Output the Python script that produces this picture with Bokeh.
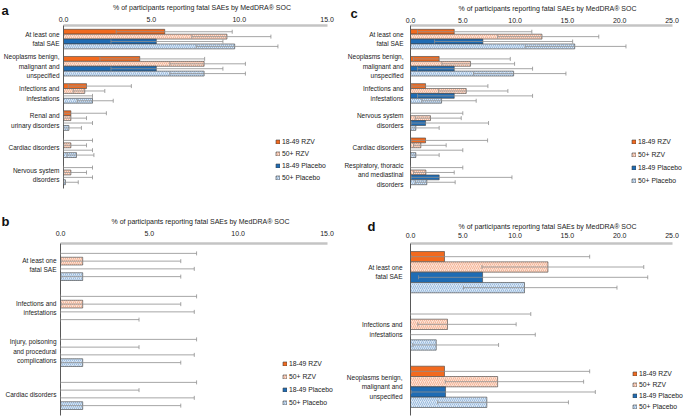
from bokeh.plotting import figure
from bokeh.models import (ColumnDataSource, FactorRange, Range1d, FixedTicker,
                          NumeralTickFormatter, Whisker, TeeHead, Legend, LegendItem, Title)
from bokeh.transform import dodge
from bokeh.layouts import row, column
from bokeh.embed import file_html
from bokeh.resources import INLINE

# ---------------- data ----------------
SERIES = ["18-49 RZV", "50+ RZV", "18-49 Placebo", "50+ Placebo"]
TITLE = "% of participants reporting fatal SAEs by MedDRA\u00ae SOC"
xticks_15 = [0, 5, 10, 15]
xticks_25 = [0, 5, 10, 15, 20, 25]

# panel a
a_cats = ["At least one\nfatal SAE", "Neoplasms benign,\nmalignant and\nunspecified",
          "Infections and\ninfestations", "Renal and\nurinary disorders",
          "Cardiac disorders", "Nervous system\ndisorders"]
a_rzv1849 = [5.76, 4.34, 1.31, 0.42, 0.0, 0.0]
a_rzv1849_lo = [3.0, 2.07, 0.27, 0.01, 0.0, 0.0]
a_rzv1849_hi = [9.6, 8.03, 3.86, 2.44, 1.65, 1.65]
a_rzv50 = [9.3, 8.0, 1.21, 0.42, 0.42, 0.42]
a_rzv50_lo = [7.3, 6.05, 0.55, 0.01, 0.01, 0.01]
a_rzv50_hi = [11.8, 10.35, 2.35, 1.31, 1.31, 1.31]
a_pl1849 = [5.28, 5.28, 0.0, 0.0, 0.0, 0.0]
a_pl1849_lo = [2.7, 2.7, 0.0, 0.0, 0.0, 0.0]
a_pl1849_hi = [9.07, 9.07, 1.65, 1.65, 1.65, 1.65]
a_pl50 = [9.74, 8.0, 1.65, 0.31, 0.74, 0.11]
a_pl50_lo = [7.55, 6.05, 0.78, 0.01, 0.2, 0.0]
a_pl50_hi = [12.2, 10.35, 2.83, 1.02, 1.73, 0.84]

# panel b
b_cats = ["At least one\nfatal SAE", "Infections and\ninfestations",
          "Injury, poisoning\nand procedural\ncomplications", "Cardiac disorders"]
b_rzv1849 = [0.0, 0.0, 0.0, 0.0]
b_rzv1849_lo = [0.0, 0.0, 0.0, 0.0]
b_rzv1849_hi = [7.66, 7.66, 7.66, 7.66]
b_rzv50 = [1.25, 1.25, 0.0, 0.0]
b_rzv50_lo = [0.03, 0.03, 0.0, 0.0]
b_rzv50_hi = [6.77, 6.77, 4.42, 4.42]
b_pl1849 = [0.0, 0.0, 0.0, 0.0]
b_pl1849_lo = [0.0, 0.0, 0.0, 0.0]
b_pl1849_hi = [7.53, 7.53, 7.53, 7.53]
b_pl50 = [1.25, 0.0, 1.25, 1.25]
b_pl50_lo = [0.03, 0.0, 0.03, 0.03]
b_pl50_hi = [6.77, 4.42, 6.77, 6.77]

# panel c
c_cats = ["At least one\nfatal SAE", "Neoplasms benign,\nmalignant and\nunspecified",
          "Infections and\ninfestations", "Nervous system\ndisorders",
          "Cardiac disorders", "Respiratory, thoracic\nand mediastinal\ndisorders"]
c_rzv1849 = [4.18, 2.74, 1.44, 0.0, 1.44, 0.0]
c_rzv1849_lo = [0.67, 0.29, 0.13, 0.0, 0.06, 0.0]
c_rzv1849_hi = [11.6, 9.54, 7.4, 5.0, 7.37, 5.0]
c_rzv50 = [12.57, 5.74, 5.33, 1.91, 0.99, 1.47]
c_rzv50_lo = [8.33, 3.0, 2.68, 0.45, 0.29, 0.29]
c_rzv50_hi = [18.0, 9.95, 9.31, 4.85, 3.41, 4.18]
c_pl1849 = [6.92, 4.18, 4.18, 1.44, 0.0, 2.74]
c_pl1849_lo = [2.3, 0.67, 0.67, 0.06, 0.0, 0.06]
c_pl1849_hi = [15.5, 11.67, 11.67, 7.46, 5.0, 9.7]
c_pl50 = [15.7, 9.86, 2.97, 0.51, 0.51, 1.56]
c_pl50_lo = [10.97, 6.03, 1.08, 0.01, 0.01, 0.45]
c_pl50_hi = [20.6, 14.86, 6.28, 2.74, 2.74, 4.27]

# panel d
d_cats = ["At least one\nfatal SAE", "Infections and\ninfestations",
          "Neoplasms benign,\nmalignant and\nunspecified"]
d_rzv1849 = [3.25, 0.0, 3.25]
d_rzv1849_lo = [0.06, 0.0, 0.06]
d_rzv1849_hi = [17.13, 11.5, 17.13]
d_rzv50 = [13.14, 3.54, 8.33]
d_rzv50_lo = [6.83, 0.7, 3.32]
d_rzv50_hi = [22.3, 10.1, 16.55]
d_pl1849 = [6.89, 0.0, 3.35]
d_pl1849_lo = [0.77, 0.0, 0.06]
d_pl1849_hi = [22.68, 11.93, 17.67]
d_pl50 = [10.9, 2.46, 7.3]
d_pl50_lo = [5.07, 0.22, 2.6]
d_pl50_hi = [19.74, 8.42, 15.1]

# ---------------- styling ----------------
FONT = "'Liberation Sans Narrow', 'Liberation Sans', Arial, sans-serif"
TXT = "#222222"
STYLES = [
    dict(fill_color="#F26A1F"),
    dict(fill_color="#FCE3D6", hatch_pattern="/", hatch_color="#F0A07C", hatch_scale=4, hatch_weight=0.7),
    dict(fill_color="#1F6CB4"),
    dict(fill_color="#DCE9F6", hatch_pattern="/", hatch_color="#7EA6D3", hatch_scale=4, hatch_weight=0.7),
]
OFFSETS = [0.27, 0.09, -0.09, -0.27]
BAR_H = 0.18


def panel(letter, cats, vals, lows, highs, xmax, xticks, width, height,
          left, target_right, top, bottom, tick_standoff, title_standoff, cat_standoff,
          letter_offset, letter_standoff, legend_xy, legend_spacing):
    frame_w = width - left
    x_end = xmax * frame_w / (target_right - left)
    p = figure(width=width, height=height, y_range=FactorRange(factors=cats[::-1]),
               x_range=Range1d(0, x_end), x_axis_location="above",
               output_backend="svg", toolbar_location=None,
               min_border_left=left, min_border_right=0,
               min_border_top=top, min_border_bottom=bottom)
    p.outline_line_color = None
    p.xgrid.visible = False
    p.ygrid.visible = False
    p.background_fill_color = "white"

    xa = p.xaxis[0]
    xa.bounds = (0, xmax)
    xa.ticker = FixedTicker(ticks=xticks)
    xa.formatter = NumeralTickFormatter(format="0.0")
    xa.axis_line_color = "#c4c4c4"
    xa.axis_line_width = 2.5
    xa.major_tick_line_color = None
    xa.minor_tick_line_color = None
    xa.major_tick_out = 0
    xa.major_tick_in = 0
    xa.major_label_standoff = tick_standoff
    xa.major_label_text_font = FONT
    xa.major_label_text_font_size = "7px"
    xa.major_label_text_color = TXT
    xa.axis_label = TITLE
    xa.axis_label_standoff = title_standoff
    xa.axis_label_text_font = FONT
    xa.axis_label_text_font_size = "7px"
    xa.axis_label_text_font_style = "normal"
    xa.axis_label_text_color = TXT

    ya = p.yaxis[0]
    ya.axis_line_color = "#595959"
    ya.axis_line_width = 1
    ya.major_tick_line_color = None
    ya.minor_tick_line_color = None
    ya.major_tick_out = 0
    ya.major_tick_in = 0
    ya.major_label_standoff = cat_standoff
    ya.major_label_text_font = FONT
    ya.major_label_text_font_size = "6.5px"
    ya.major_label_text_color = TXT
    ya.major_label_text_align = "center"
    ya.major_label_text_line_height = 1.35

    items = []
    for i in range(4):
        src = ColumnDataSource(dict(cat=cats, v=vals[i], lo=lows[i], hi=highs[i]))
        ycoord = dodge("cat", OFFSETS[i], range=p.y_range)
        r = p.hbar(y=ycoord, left=0, right="v", height=BAR_H, source=src,
                   line_color="#404040", line_width=0.6, **STYLES[i])
        items.append(LegendItem(label=SERIES[i], renderers=[r]))
        w = Whisker(source=src, base=ycoord, lower="lo", upper="hi", dimension="width",
                    line_color="#8f8f8f", line_width=0.8, level="annotation",
                    upper_head=TeeHead(size=4, line_color="#8f8f8f", line_width=0.8),
                    lower_head=TeeHead(size=4, line_color="#8f8f8f", line_width=0.8))
        p.add_layout(w)

    legend = Legend(items=items, location=legend_xy, orientation="vertical",
                    glyph_width=5, glyph_height=5, label_height=8, label_standoff=2,
                    spacing=legend_spacing, padding=0, margin=0,
                    label_text_font=FONT, label_text_font_size="6.8px", label_text_color=TXT,
                    border_line_color=None, background_fill_alpha=0)
    p.add_layout(legend)

    p.title = Title(text=letter, align="left", offset=letter_offset, standoff=letter_standoff,
                    text_font="'Liberation Sans', Arial, sans-serif", text_font_size="13px",
                    text_font_style="bold", text_color="#111111")
    return p


pa = panel("a", a_cats,
           [a_rzv1849, a_rzv50, a_pl1849, a_pl50],
           [a_rzv1849_lo, a_rzv50_lo, a_pl1849_lo, a_pl50_lo],
           [a_rzv1849_hi, a_rzv50_hi, a_pl1849_hi, a_pl50_hi],
           15, xticks_15, 340, 213, 60, 326.5, 23, 25, 4, 3,
           4, -62, -35, (212, 7), 4)

pc = panel("c", c_cats,
           [c_rzv1849, c_rzv50, c_pl1849, c_pl50],
           [c_rzv1849_lo, c_rzv50_lo, c_pl1849_lo, c_pl50_lo],
           [c_rzv1849_hi, c_rzv50_hi, c_pl1849_hi, c_pl50_hi],
           25, xticks_25, 344, 213, 70, 331.5, 23, 17, 3, 3,
           7, -60, -38, (221, 4), 5)

pb = panel("b", b_cats,
           [b_rzv1849, b_rzv50, b_pl1849, b_pl50],
           [b_rzv1849_lo, b_rzv50_lo, b_pl1849_lo, b_pl50_lo],
           [b_rzv1849_hi, b_rzv50_hi, b_pl1849_hi, b_pl50_hi],
           15, xticks_15, 340, 203, 60, 326.5, 30, 1, 8, 3,
           4, -59, -28, (222, 9), 5)

pd_ = panel("d", d_cats,
            [d_rzv1849, d_rzv50, d_pl1849, d_pl50],
            [d_rzv1849_lo, d_rzv50_lo, d_pl1849_lo, d_pl50_lo],
            [d_rzv1849_hi, d_rzv50_hi, d_pl1849_hi, d_pl50_hi],
            25, xticks_25, 344, 203, 70, 331.5, 30, 1, 6, 0,
            8, -43, -28, (222, 5), 3)

layout = column(row(pa, pc), row(pb, pd_))

with open("out.html", "w") as f:
    f.write(file_html(layout, INLINE))
